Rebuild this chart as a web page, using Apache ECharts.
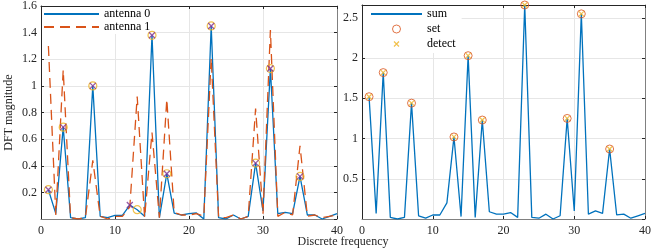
<!DOCTYPE html>
<html>
<head>
<meta charset="utf-8">
<script src="https://cdn.jsdelivr.net/npm/echarts@6/dist/echarts.min.js"></script>
<style>html,body{margin:0;padding:0;background:#fff}#c{width:654px;height:252px}</style>
</head>
<body>
<div id="c"></div>
<script>
const freq = [1,2,3,4,5,6,7,8,9,10,11,12,13,14,15,16,17,18,19,20,21,22,23,24,25,26,27,28,29,30,31,32,33,34,35,36,37,38,39,40];
const antenna0 = [0.22,0.04,0.69,0.01,0.00,0.01,1.00,0.02,0.01,0.027,0.027,0.105,0.07,0.02,1.38,0.01,0.34,0.045,0.03,0.04,0.045,0.00,1.45,0.01,0.00,0.03,0.00,0.02,0.42,0.06,1.13,0.04,0.05,0.04,0.32,0.03,0.03,0.00,0.02,0.04];
const antenna1 = [1.30,0.03,1.12,0.01,0.00,0.01,0.44,0.02,0.00,0.02,0.02,0.09,0.92,0.01,0.65,0.01,0.90,0.05,0.03,0.03,0.04,0.02,1.21,0.01,0.01,0.03,0.00,0.02,0.83,0.04,1.42,0.02,0.05,0.03,0.55,0.02,0.03,0.01,0.02,0.03];
const sumMag = [1.52,0.07,1.82,0.02,0.00,0.02,1.44,0.04,0.01,0.05,0.05,0.20,1.02,0.03,2.03,0.02,1.23,0.09,0.06,0.06,0.08,0.02,2.66,0.02,0.01,0.06,0.00,0.04,1.25,0.10,2.55,0.06,0.10,0.07,0.87,0.05,0.06,0.01,0.04,0.07];
const setBins = [1,3,7,13,15,17,23,29,31,35];
const detectBinsAnt0 = [1,3,7,12,15,17,23,29,31,35];
const detectBinsSum = [1,3,7,13,15,17,23,29,31,35];
const xTicks = [0,10,20,30,40];
const yTicksLeft = [0.2,0.4,0.6,0.8,1,1.2,1.4,1.6];
const yTicksRight = [0.5,1,1.5,2,2.5];

const FONT = 'Liberation Serif';
const BLUE = '#0072BD', RED = '#D95319', YEL = '#EDB120', PUR = '#7E2F8E';
const XPATH = 'path://M0,0L10,10M10,0L0,10';
const XPATH_LEG = 'path://M0,0L10,10M10,0L0,10M-3,-3L-3,-3M13,13L13,13';

function pairs(xs, ys) { return xs.map((x, i) => [x, ys[i]]); }
function pick(bins, ys) { return bins.map(b => [b, ys[freq.indexOf(b)]]); }

const chart = echarts.init(document.getElementById('c'), null, {renderer: 'canvas'});

function xAx(gi, pos) {
  const bottom = pos === 'bottom';
  return {
    type: 'value', gridIndex: gi, position: pos, min: 0, max: 40, interval: 10,
    axisLine: {show: true, onZero: false, lineStyle: {color: bottom ? '#808080' : '#262626', width: 1}},
    axisTick: {show: true, inside: true, length: 3, lineStyle: {color: '#262626'}},
    axisLabel: {show: bottom, margin: 6, color: '#262626', fontFamily: FONT, fontSize: 12,
      formatter: v => xTicks.includes(v) ? String(v) : ''},
    splitLine: {show: bottom, lineStyle: {color: '#e6e6e6', width: 1}}
  };
}
function yAx(gi, pos, max, interval, ticks, name) {
  const left = pos === 'left';
  return {
    type: 'value', gridIndex: gi, position: pos, min: 0, max: max, interval: interval,
    name: left ? name : '', nameLocation: 'middle', nameGap: 26,
    nameTextStyle: {fontFamily: FONT, fontSize: 12, color: '#262626'},
    axisLine: {show: true, onZero: false, lineStyle: {color: left ? '#262626' : '#808080', width: 1}},
    axisTick: {show: true, inside: true, length: 3, lineStyle: {color: '#262626'}},
    axisLabel: {show: left, margin: 4, color: '#262626', fontFamily: FONT, fontSize: 12,
      showMinLabel: false,
      formatter: v => ticks.some(t => Math.abs(t - v) < 1e-9) ? String(+v.toFixed(2)) : ''},
    splitLine: {show: left, lineStyle: {color: '#e6e6e6', width: 1}}
  };
}

const option = {
  animation: false,
  backgroundColor: '#fff',
  grid: [
    {left: 41, top: 6, width: 296, height: 213},
    {left: 362, top: 5, width: 283, height: 214}
  ],
  xAxis: [xAx(0, 'bottom'), xAx(0, 'top'), xAx(1, 'bottom'), xAx(1, 'top')],
  yAxis: [
    yAx(0, 'left', 1.6, 0.2, yTicksLeft, 'DFT magnitude'),
    yAx(0, 'right', 1.6, 0.2, yTicksLeft, ''),
    yAx(1, 'left', 2.66, 0.5, yTicksRight, ''),
    yAx(1, 'right', 2.66, 0.5, yTicksRight, '')
  ],
  legend: [
    {
      left: 42, top: 7, orient: 'vertical', padding: [1, 6, 1, 1], backgroundColor: '#fff',
      itemWidth: 55, itemHeight: 10, itemGap: 1,
      textStyle: {fontFamily: FONT, fontSize: 12, color: '#000', lineHeight: 12},
      data: [
        {name: 'antenna 0', itemStyle: {opacity: 0}},
        {name: 'antenna 1', itemStyle: {opacity: 0}}
      ]
    },
    {
      left: 363, top: 6, orient: 'vertical', padding: [2, 6, 3, 7], backgroundColor: '#fff',
      itemWidth: 51, itemHeight: 8, itemGap: 3,
      textStyle: {fontFamily: FONT, fontSize: 12, color: '#000', lineHeight: 12},
      data: [
        {name: 'sum', itemStyle: {opacity: 0}},
        {name: 'set', icon: 'circle', itemStyle: {color: 'transparent', borderColor: RED, borderWidth: 1}},
        {name: 'detect', icon: XPATH_LEG, itemStyle: {color: 'transparent', borderColor: YEL, borderWidth: 1.2}}
      ]
    }
  ],
  graphic: [
    {type: 'text', x: 343, y: 242, style: {text: 'Discrete frequency', fontFamily: FONT, fontSize: 12,
      fill: '#262626', textAlign: 'center', textVerticalAlign: 'middle'}}
  ],
  series: [
    {name: 'antenna 0', type: 'line', xAxisIndex: 0, yAxisIndex: 0, data: pairs(freq, antenna0),
      symbol: 'none', lineStyle: {color: BLUE, width: 1.3}, itemStyle: {color: BLUE}, z: 2},
    {name: 'antenna 1', type: 'line', xAxisIndex: 0, yAxisIndex: 0, data: pairs(freq, antenna1),
      symbol: 'none', lineStyle: {color: RED, width: 1.3, type: [10, 6]}, itemStyle: {color: RED}, z: 3},
    {name: 'set0', type: 'scatter', xAxisIndex: 0, yAxisIndex: 0, data: pick(setBins, antenna0),
      symbol: 'circle', symbolSize: 8, itemStyle: {color: 'transparent', borderColor: YEL, borderWidth: 1.2}, z: 4},
    {name: 'detect0', type: 'scatter', xAxisIndex: 0, yAxisIndex: 0, data: pick(detectBinsAnt0, antenna0),
      symbol: XPATH, symbolSize: 6, itemStyle: {color: 'transparent', borderColor: PUR, borderWidth: 1.3}, z: 5},
    {name: 'sum', type: 'line', xAxisIndex: 2, yAxisIndex: 2, data: pairs(freq, sumMag),
      symbol: 'none', lineStyle: {color: BLUE, width: 1.3}, itemStyle: {color: BLUE}, z: 2},
    {name: 'set', type: 'scatter', xAxisIndex: 2, yAxisIndex: 2, data: pick(setBins, sumMag),
      symbol: 'circle', symbolSize: 8, itemStyle: {color: 'transparent', borderColor: RED, borderWidth: 1}, z: 4},
    {name: 'detect', type: 'scatter', xAxisIndex: 2, yAxisIndex: 2, data: pick(detectBinsSum, sumMag),
      symbol: XPATH, symbolSize: 5, itemStyle: {color: 'transparent', borderColor: YEL, borderWidth: 1.2}, z: 5}
  ]
};
chart.setOption(option);
</script>
</body>
</html>
